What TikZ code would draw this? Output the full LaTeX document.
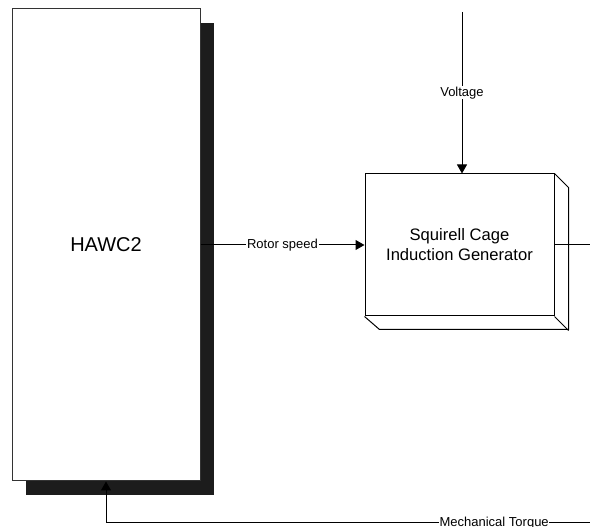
\documentclass[tikz,border=0pt]{standalone}
\usepackage{fontspec}
\setmainfont{Liberation Sans}
\usetikzlibrary{arrows.meta,shadows}
\tikzset{
  sig/.style={line width=0.75pt,-{Triangle[length=6.75pt,width=7.5pt]}},
  wire/.style={line width=0.75pt},
  lbl/.style={fill=white,inner sep=0.5pt,font=\fontsize{9.75}{11}\selectfont},
  hawcbox/.style={draw=black!80,line width=0.75pt,fill=white,minimum width=141pt,minimum height=354pt,
    font=\fontsize{15}{18}\selectfont,
    drop shadow={shadow xshift=10.5pt,shadow yshift=-10.5pt,fill=black!89,opacity=1}},
  genbox/.style={draw,line width=0.75pt,fill=white,minimum width=141.75pt,minimum height=106.5pt,
    align=center,font=\fontsize{12.45}{15}\selectfont}
}
\begin{document}
\begin{tikzpicture}[x=0.75pt,y=-0.75pt]
\useasboundingbox (0,0) rectangle (590,527);
\node[hawcbox] (hawc) at (106,245) {HAWC2};
\node[genbox] (gen) at (459.5,245) {Squirell Cage\\Induction Generator};
% depth of the generator block
\draw[wire] (gen.north east) -- ++(14,14) -- ++(0,142) -- ++(-189,0) -- (gen.south west);
\draw[wire] (gen.south east) -- ++(14,14);
\coordinate (vin) at (462,12); \coordinate (gout) at (590,245); \coordinate (tq) at (590,522.7);
\draw[sig] (vin) -- (vin |- gen.north) node[lbl,midway]{Voltage};
\draw[sig] (hawc.east) -- (gen.west) node[lbl,pos=0.5]{Rotor speed};
\draw[wire] (gen.east) -- (gout);
\draw[sig] (tq) -| (hawc.south) node[lbl,pos=0.099]{Mechanical Torque};
\end{tikzpicture}
\end{document}
